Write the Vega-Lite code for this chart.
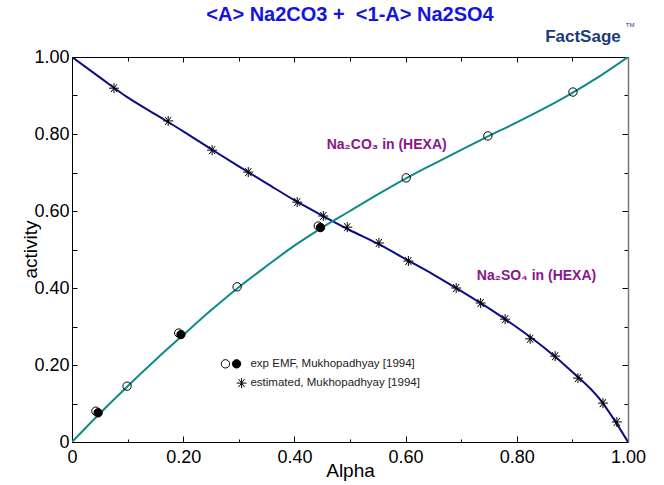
{
  "$schema": "https://vega.github.io/schema/vega-lite/v6.json",
  "width": 556,
  "height": 385,
  "autosize": "none",
  "padding": {"left": 72, "top": 57, "right": 36, "bottom": 43},
  "background": "white",
  "config": {"view": {"stroke": null}, "font": "Liberation Sans"},
  "title": {"text": "<A> Na2CO3 +\u00a0\u00a0<1-A> Na2SO4", "font": "Liberation Sans", "fontSize": 20, "fontWeight": "bold", "color": "#1414e0", "anchor": "middle", "offset": -3},
  "datasets": {
    "so4": [
      {"x": 0, "y": 1.0}, {"x": 0.05, "y": 0.947}, {"x": 0.1, "y": 0.895}, {"x": 0.15, "y": 0.851}, {"x": 0.2, "y": 0.807},
      {"x": 0.25, "y": 0.761}, {"x": 0.3, "y": 0.716}, {"x": 0.35, "y": 0.672}, {"x": 0.4, "y": 0.628}, {"x": 0.45, "y": 0.588},
      {"x": 0.5, "y": 0.550}, {"x": 0.55, "y": 0.515}, {"x": 0.6, "y": 0.475}, {"x": 0.65, "y": 0.435}, {"x": 0.7, "y": 0.392},
      {"x": 0.75, "y": 0.347}, {"x": 0.8, "y": 0.298}, {"x": 0.85, "y": 0.244}, {"x": 0.9, "y": 0.182}, {"x": 0.95, "y": 0.110},
      {"x": 0.975, "y": 0.058}, {"x": 1.0, "y": 0.0}
    ],
    "co3": [
      {"x": 0, "y": 0}, {"x": 0.05, "y": 0.074}, {"x": 0.1, "y": 0.145}, {"x": 0.15, "y": 0.213}, {"x": 0.2, "y": 0.278},
      {"x": 0.25, "y": 0.342}, {"x": 0.3, "y": 0.402}, {"x": 0.35, "y": 0.457}, {"x": 0.4, "y": 0.510}, {"x": 0.45, "y": 0.557},
      {"x": 0.5, "y": 0.600}, {"x": 0.55, "y": 0.643}, {"x": 0.6, "y": 0.684}, {"x": 0.65, "y": 0.722}, {"x": 0.7, "y": 0.759},
      {"x": 0.75, "y": 0.795}, {"x": 0.8, "y": 0.830}, {"x": 0.85, "y": 0.867}, {"x": 0.9, "y": 0.907}, {"x": 0.95, "y": 0.951},
      {"x": 1.0, "y": 1.0}
    ],
    "stars": [
      {"x": 0.0755, "y": 0.919}, {"x": 0.173, "y": 0.834}, {"x": 0.252, "y": 0.758}, {"x": 0.317, "y": 0.701},
      {"x": 0.405, "y": 0.623}, {"x": 0.452, "y": 0.587}, {"x": 0.495, "y": 0.558}, {"x": 0.552, "y": 0.517},
      {"x": 0.605, "y": 0.470}, {"x": 0.691, "y": 0.400}, {"x": 0.735, "y": 0.361}, {"x": 0.779, "y": 0.319},
      {"x": 0.824, "y": 0.268}, {"x": 0.869, "y": 0.223}, {"x": 0.910, "y": 0.166}, {"x": 0.955, "y": 0.101},
      {"x": 0.980, "y": 0.052}, {"x": 0.305, "y": 0.153}
    ],
    "open": [
      {"x": 0.099, "y": 0.145}, {"x": 0.297, "y": 0.403}, {"x": 0.601, "y": 0.686}, {"x": 0.748, "y": 0.795},
      {"x": 0.901, "y": 0.909}, {"x": 0.043, "y": 0.080}, {"x": 0.192, "y": 0.283}, {"x": 0.443, "y": 0.561},
      {"x": 0.276, "y": 0.203}
    ],
    "filled": [
      {"x": 0.047, "y": 0.076}, {"x": 0.196, "y": 0.279}, {"x": 0.447, "y": 0.557}, {"x": 0.296, "y": 0.203}
    ],
    "legend": [
      {"x": 0.321, "y": 0.203, "t": "exp EMF, Mukhopadhyay [1994]"},
      {"x": 0.321, "y": 0.153, "t": "estimated, Mukhopadhyay [1994]"}
    ],
    "labels": [
      {"x": 0.458, "y": 0.771, "t": "Na₂CO₃ in (HEXA)"},
      {"x": 0.728, "y": 0.431, "t": "Na₂SO₄ in (HEXA)"}
    ],
    "logo": [
      {"x": 0.851, "y": 1.052, "t": "FactSage"}
    ],
    "tm": [
      {"x": 0.996, "y": 1.082, "t": "TM"}
    ]
  },
  "resolve": {"axis": {"x": "independent", "y": "independent"}},
  "layer": [
    {
      "data": {"name": "so4"},
      "mark": {"type": "line", "color": "#0b0b86", "strokeWidth": 2, "interpolate": "monotone", "clip": true},
      "encoding": {
        "x": {"field": "x", "type": "quantitative", "scale": {"domain": [0, 1], "nice": false},
          "axis": {"orient": "bottom", "values": [0, 0.1, 0.2, 0.3, 0.4, 0.5, 0.6, 0.7, 0.8, 0.9, 1.0],
            "labelExpr": "round(datum.value*10)%2==1 ? '' : (datum.value==0 ? '0' : format(datum.value, '.2f'))",
            "tickSize": {"condition": {"test": "round(datum.value*10)%2==1", "value": -3}, "value": -6},
            "tickColor": "black", "domainColor": "black", "labelColor": "black", "labelFontSize": 18, "labelFont": "Liberation Sans",
            "labelPadding": 12, "labelFlush": false, "labelOverlap": false, "grid": false,
            "title": "Alpha", "titleFontSize": 19, "titleFont": "Liberation Sans", "titleFontWeight": "normal", "titleColor": "black",
            "titleX": 278, "titleY": 28, "titleBaseline": "middle"}},
        "y": {"field": "y", "type": "quantitative", "scale": {"domain": [0, 1], "nice": false},
          "axis": {"orient": "left", "values": [0, 0.1, 0.2, 0.3, 0.4, 0.5, 0.6, 0.7, 0.8, 0.9, 1.0],
            "labelExpr": "round(datum.value*10)%2==1 ? '' : (datum.value==0 ? '0' : format(datum.value, '.2f'))",
            "tickSize": -5,
            "tickColor": "black", "domainColor": "black", "labelColor": "black", "labelFontSize": 18, "labelFont": "Liberation Sans",
            "labelPadding": 8, "labelFlush": false, "labelOverlap": false, "grid": false,
            "title": "activity", "titleFontSize": 19, "titleFont": "Liberation Sans", "titleFontWeight": "normal", "titleColor": "black",
            "titleX": -42, "titleY": 192, "titleAngle": -90, "titleAlign": "center", "titleBaseline": "middle"}}
      }
    },
    {
      "data": {"name": "co3"},
      "mark": {"type": "line", "color": "#0e8a88", "strokeWidth": 2, "interpolate": "monotone", "clip": true},
      "encoding": {
        "x": {"field": "x", "type": "quantitative",
          "axis": {"orient": "top", "values": [0, 0.1, 0.2, 0.3, 0.4, 0.5, 0.6, 0.7, 0.8, 0.9, 1.0], "labels": false,
            "tickSize": {"condition": {"test": "round(datum.value*10)%2==1", "value": -4}, "value": -5},
            "tickColor": "black", "domainColor": "black", "grid": false, "title": null}},
        "y": {"field": "y", "type": "quantitative",
          "axis": {"orient": "right", "values": [0, 0.1, 0.2, 0.3, 0.4, 0.5, 0.6, 0.7, 0.8, 0.9, 1.0], "labels": false,
            "tickSize": {"condition": {"test": "round(datum.value*10)%2==1", "value": -4}, "value": -6},
            "tickColor": "black", "domainColor": "#777777", "domainWidth": 1.5, "grid": false, "title": null}}
      }
    },
    {
      "data": {"name": "open"},
      "mark": {"type": "point", "shape": "circle", "filled": false, "stroke": "black", "strokeWidth": 1, "size": 70, "opacity": 1},
      "encoding": {
        "x": {"field": "x", "type": "quantitative", "axis": null},
        "y": {"field": "y", "type": "quantitative", "axis": null}
      }
    },
    {
      "data": {"name": "filled"},
      "mark": {"type": "point", "shape": "circle", "filled": true, "fill": "black", "stroke": "black", "strokeWidth": 1, "size": 70, "opacity": 1},
      "encoding": {
        "x": {"field": "x", "type": "quantitative", "axis": null},
        "y": {"field": "y", "type": "quantitative", "axis": null}
      }
    },
    {
      "data": {"name": "stars"},
      "mark": {"type": "point", "shape": "M-1,0L1,0M-0.6,-0.8L0.6,0.8M-0.6,0.8L0.6,-0.8M0,-1L0,1", "filled": false, "stroke": "black", "strokeWidth": 1, "size": 100, "opacity": 1},
      "encoding": {
        "x": {"field": "x", "type": "quantitative", "axis": null},
        "y": {"field": "y", "type": "quantitative", "axis": null}
      }
    },
    {
      "data": {"name": "legend"},
      "mark": {"type": "text", "align": "left", "baseline": "middle", "fontSize": 11.5, "font": "Liberation Sans", "color": "#222222"},
      "encoding": {
        "x": {"field": "x", "type": "quantitative", "axis": null},
        "y": {"field": "y", "type": "quantitative", "axis": null},
        "text": {"field": "t"}
      }
    },
    {
      "data": {"name": "labels"},
      "mark": {"type": "text", "align": "left", "baseline": "middle", "fontSize": 14, "fontWeight": "bold", "font": "Liberation Sans", "color": "#8a168a"},
      "encoding": {
        "x": {"field": "x", "type": "quantitative", "axis": null},
        "y": {"field": "y", "type": "quantitative", "axis": null},
        "text": {"field": "t"}
      }
    },
    {
      "data": {"name": "logo"},
      "mark": {"type": "text", "align": "left", "baseline": "middle", "fontSize": 17, "fontWeight": "bold", "font": "Liberation Sans", "color": "#1e3a7a"},
      "encoding": {
        "x": {"field": "x", "type": "quantitative", "axis": null},
        "y": {"field": "y", "type": "quantitative", "axis": null},
        "text": {"field": "t"}
      }
    },
    {
      "data": {"name": "tm"},
      "mark": {"type": "text", "align": "left", "baseline": "middle", "fontSize": 6, "font": "Liberation Sans", "color": "#1e3a7a"},
      "encoding": {
        "x": {"field": "x", "type": "quantitative", "axis": null},
        "y": {"field": "y", "type": "quantitative", "axis": null},
        "text": {"field": "t"}
      }
    }
  ]
}
